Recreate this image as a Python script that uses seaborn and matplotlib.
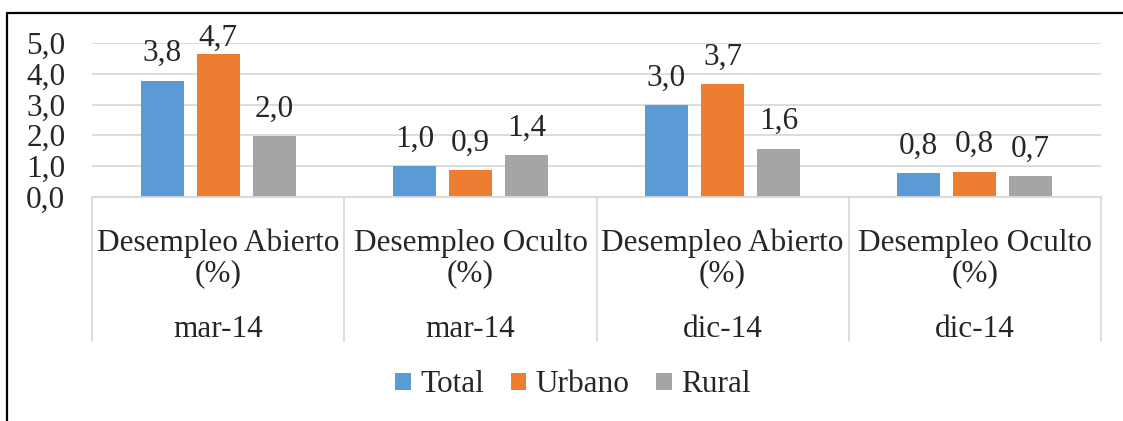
import matplotlib
matplotlib.use("Agg")
import matplotlib.pyplot as plt
import seaborn as sns
import pandas as pd
from matplotlib.lines import Line2D
from matplotlib.patches import Patch
import matplotlib.transforms as mtransforms

# ---- data ----
indicators = ["Desempleo Abierto\n(%)", "Desempleo Oculto\n(%)",
              "Desempleo Abierto\n(%)", "Desempleo Oculto\n(%)"]
periods = ["mar-14", "mar-14", "dic-14", "dic-14"]
series = ["Total", "Urbano", "Rural"]
total = [3.78, 1.00, 2.97, 0.77]
urbano = [4.66, 0.87, 3.67, 0.81]
rural = [1.98, 1.36, 1.56, 0.66]
yticks = [0, 1, 2, 3, 4, 5]
colors = ["#5B9BD5", "#ED7D31", "#A5A5A5"]

keys = [f"k{i}" for i in range(len(indicators))]
rows = []
for name, vals in zip(series, [total, urbano, rural]):
    for k, v in zip(keys, vals):
        rows.append({"cat": k, "serie": name, "valor": v})
df = pd.DataFrame(rows)

sns.set_style("white")
plt.rcParams["font.family"] = ["Liberation Serif", "DejaVu Serif"]
FS = 22.5

fig = plt.figure(figsize=(11.23, 4.21), dpi=100)
W, H = 1123, 421
left, right, top, bottom = 92.3, 1100.7, 43.3, 196.5
ax = fig.add_axes([left / W, 1 - bottom / H, (right - left) / W, (bottom - top) / H])

sns.barplot(data=df, x="cat", y="valor", hue="serie", order=keys,
            hue_order=series, palette=colors, saturation=1, width=0.667, gap=0.23,
            linewidth=0, ax=ax, legend=False, errorbar=None)

ax.set_ylim(0, 5)
ax.set_xlim(-0.5, len(keys) - 0.5)
ax.set_yticks(yticks)
ax.set_yticklabels([f"{t:.1f}".replace(".", ",") for t in yticks], fontsize=FS)
ax.tick_params(axis="y", length=0, pad=19.4)
ax.set_xticks([])
ax.set_xlabel("")
ax.set_ylabel("")
ax.yaxis.grid(True, color="#D9D9D9", linewidth=1.3)
ax.set_axisbelow(True)
for s in ["top", "right", "left"]:
    ax.spines[s].set_visible(False)
ax.spines["bottom"].set_color("#D9D9D9")
ax.spines["bottom"].set_linewidth(1.3)

def fmt(v):
    return f"{v:.1f}".replace(".", ",")

for cont in ax.containers:
    hs = [b.get_height() for b in cont]
    ax.bar_label(cont, labels=[fmt(h) if h < 4.4 else "" for h in hs],
                 padding=9, fontsize=FS, clip_on=False)
    ax.bar_label(cont, labels=[fmt(h) if h >= 4.4 else "" for h in hs],
                 padding=1, fontsize=FS, clip_on=False)

trans = mtransforms.blended_transform_factory(ax.transData, ax.transAxes)
for i in range(len(keys) + 1):
    ax.plot([i - 0.5, i - 0.5], [0, -0.943], transform=trans, color="#D9D9D9",
            linewidth=1.3, clip_on=False)
for i, (ind, per) in enumerate(zip(indicators, periods)):
    ax.text(i, -0.405, ind, transform=trans, ha="center", va="center",
            fontsize=FS, linespacing=1.05, multialignment="center")
    ax.text(i, -0.865, per, transform=trans, ha="center", va="center", fontsize=FS)

handles = [Patch(facecolor=c, edgecolor="none", label=s) for s, c in zip(series, colors)]
fig.legend(handles=handles, loc="center", bbox_to_anchor=(573 / W, 1 - 385 / H),
           ncol=3, frameon=False, fontsize=FS, handlelength=0.5, handleheight=0.5,
           handletextpad=0.3, columnspacing=0.85, borderpad=0)

# outer border (left and top)
bx, by = 7 / W, 1 - 12.7 / H
fig.add_artist(Line2D([bx, bx], [0, by], transform=fig.transFigure, color="black", linewidth=1.6))
fig.add_artist(Line2D([bx, 1], [by, by], transform=fig.transFigure, color="black", linewidth=1.6))

fig.savefig("out.png", dpi=100)
